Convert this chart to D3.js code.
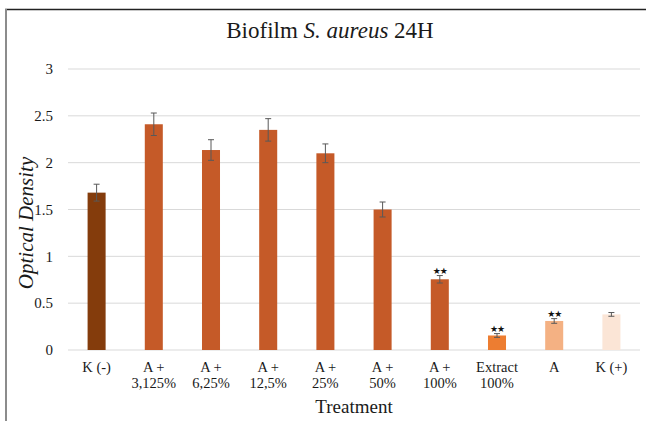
<!DOCTYPE html>
<html>
<head>
<meta charset="utf-8">
<script src="https://cdn.jsdelivr.net/npm/d3@7"></script>
<style>
  html, body { margin: 0; padding: 0; background: #fff; }
  svg { display: block; }
</style>
</head>
<body>
<svg id="chart" width="646" height="421"></svg>
<script>
// Treatment groups (two-line tick labels)
const categories = ["K (-)", "A + 3,125%", "A + 6,25%", "A + 12,5%", "A + 25%", "A + 50%", "A + 100%", "Extract 100%", "A", "K (+)"];
const labelLines = [["K (-)"], ["A +", "3,125%"], ["A +", "6,25%"], ["A +", "12,5%"], ["A +", "25%"], ["A +", "50%"], ["A +", "100%"], ["Extract", "100%"], ["A"], ["K (+)"]];
// Mean optical density and error (±)
const values = [1.68, 2.41, 2.135, 2.35, 2.10, 1.50, 0.755, 0.155, 0.31, 0.38];
const errors = [0.09, 0.12, 0.11, 0.12, 0.10, 0.08, 0.04, 0.02, 0.025, 0.02];
// Significance markers
const marks = ["", "", "", "", "", "", "★★", "★★", "★★", ""];
const barColors = ["#843c0c", "#c55a28", "#c55a28", "#c55a28", "#c55a28", "#c55a28", "#c55a28", "#ed7d31", "#f4b183", "#fbe5d6"];
const yTicks = [0, 0.5, 1, 1.5, 2, 2.5, 3];

const SERIF = "'Liberation Serif', 'Times New Roman', 'DejaVu Serif', serif";
const svg = d3.select("#chart");
const margin = { left: 68, right: 6, top: 69, bottom: 71 };
const W = 646, H = 421;

// frame lines
svg.append("line").attr("x1", 5).attr("x2", W).attr("y1", 9.5).attr("y2", 9.5)
  .attr("stroke", "#222").attr("stroke-width", 1.5);
svg.append("line").attr("x1", 6).attr("x2", 6).attr("y1", 9).attr("y2", H)
  .attr("stroke", "#8c8c8c").attr("stroke-width", 2);

const x = d3.scaleBand().domain(categories).range([margin.left, W - margin.right]).paddingInner(0.685).paddingOuter(0.3425);
const y = d3.scaleLinear().domain([0, 3]).range([H - margin.bottom, margin.top]);

// gridlines
svg.append("g").selectAll("line").data(yTicks).join("line")
  .attr("x1", margin.left).attr("x2", W - margin.right)
  .attr("y1", d => y(d)).attr("y2", d => y(d))
  .attr("stroke", "#d9d9d9").attr("stroke-width", 1);

// y axis tick labels
const yAxis = d3.axisLeft(y).tickValues(yTicks).tickFormat(d3.format("")).tickSize(0).tickPadding(15);
const gy = svg.append("g").attr("transform", `translate(${margin.left},0)`).call(yAxis);
gy.select(".domain").remove();
gy.attr("font-family", null).attr("font-size", null);
gy.selectAll("text").style("font-family", SERIF).style("font-size", "15px").attr("fill", "#1a1a1a");

// bars
svg.append("g").selectAll("rect").data(categories).join("rect")
  .attr("x", d => x(d)).attr("width", x.bandwidth())
  .attr("y", (d, i) => y(values[i])).attr("height", (d, i) => y(0) - y(values[i]))
  .attr("fill", (d, i) => barColors[i]);

// error bars
const eb = svg.append("g").attr("stroke", "#595959").attr("stroke-width", 1);
categories.forEach((c, i) => {
  const cx = x(c) + x.bandwidth() / 2;
  const y1 = y(values[i] + errors[i]), y2 = y(values[i] - errors[i]);
  eb.append("line").attr("x1", cx).attr("x2", cx).attr("y1", y1).attr("y2", y2);
  eb.append("line").attr("x1", cx - 3).attr("x2", cx + 3).attr("y1", y1).attr("y2", y1);
  eb.append("line").attr("x1", cx - 3).attr("x2", cx + 3).attr("y1", y2).attr("y2", y2);
});

// significance stars
svg.append("g").selectAll("text").data(categories).join("text")
  .attr("x", d => x(d) + x.bandwidth() / 2)
  .attr("y", (d, i) => y(values[i] + errors[i]) - 2)
  .attr("text-anchor", "middle")
  .style("font-family", "'DejaVu Sans', sans-serif")
  .style("font-size", "9px")
  .attr("fill", "#111")
  .style("letter-spacing", "-1px")
  .text((d, i) => marks[i]);

// x axis labels
const xl = svg.append("g");
categories.forEach((c, i) => {
  const t = xl.append("text")
    .attr("x", x(c) + x.bandwidth() / 2)
    .attr("y", 372)
    .attr("text-anchor", "middle")
    .attr("fill", "#1a1a1a")
    .style("font-family", SERIF)
    .style("font-size", "14.5px");
  labelLines[i].forEach((ln, j) => {
    t.append("tspan").attr("x", x(c) + x.bandwidth() / 2).attr("dy", j === 0 ? 0 : 16).text(ln);
  });
});

// title
const title = svg.append("text").attr("x", 330).attr("y", 38).attr("text-anchor", "middle")
  .attr("fill", "#1a1a1a").style("font-family", SERIF).style("font-size", "23px");
title.append("tspan").text("Biofilm ");
title.append("tspan").style("font-style", "italic").text("S. aureus");
title.append("tspan").text(" 24H");

// axis titles
svg.append("text").attr("x", (margin.left + W - margin.right) / 2).attr("y", 413)
  .attr("text-anchor", "middle").attr("fill", "#1a1a1a")
  .style("font-family", SERIF).style("font-size", "19px").text("Treatment");
svg.append("text").attr("transform", "translate(33,223) rotate(-90)")
  .attr("text-anchor", "middle").attr("fill", "#1a1a1a")
  .style("font-family", SERIF).style("font-size", "21px").style("font-style", "italic").text("Optical Density");
</script>
</body>
</html>
